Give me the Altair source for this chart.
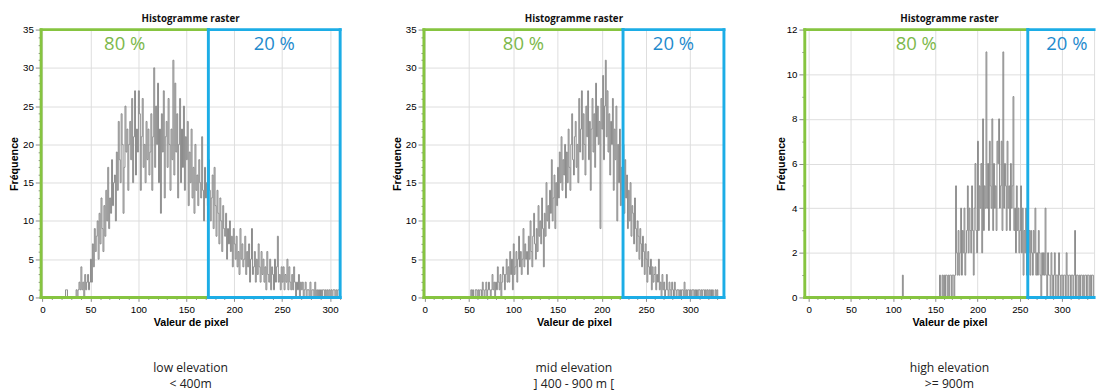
import altair as alt
import pandas as pd

# ---- histogram counts, one bin per pixel value (0, 1, 2, ...) ----
LOW = [0] * 24 + [
    1, 1, 0, 0, 0, 0,
    0, 0, 0, 0, 0, 1, 0, 1, 2, 1,
    4, 1, 2, 0, 3, 1, 2, 3, 1, 2,
    5, 2, 7, 4, 9, 6, 8, 10, 5, 11,
    7, 13, 9, 6, 12, 8, 14, 10, 17, 9,
    13, 11, 18, 12, 15, 16, 10, 19, 14, 23,
    18, 15, 24, 20, 11, 17, 25, 19, 22, 14,
    20, 23, 18, 26, 15, 21, 27, 16, 22, 19,
    27, 24, 14, 21, 26, 17, 20, 15, 23, 18,
    22, 16, 19, 24, 14, 21, 30, 17, 25, 20,
    28, 15, 22, 11, 24, 19, 27, 13, 21, 23,
    17, 26, 20, 14, 22, 18, 31, 16, 28, 19,
    24, 13, 20, 26, 15, 22, 17, 25, 14, 21,
    18, 23, 12, 19, 15, 22, 13, 17, 11, 20,
    14, 16, 12, 18, 15, 13, 21, 14, 10, 17,
    13, 15, 12, 18, 14, 10, 13, 16, 9, 17,
    12, 8, 14, 11, 7, 13, 10, 6, 12, 9,
    8, 11, 5, 9, 7, 10, 6, 8, 4, 9,
    7, 5, 8, 4, 6, 3, 9, 5, 7, 4,
    5, 8, 3, 6, 4, 7, 2, 5, 9, 3,
    4, 6, 2, 5, 3, 7, 4, 2, 6, 3,
    5, 2, 4, 1, 6, 3, 2, 5, 1, 4,
    3, 1, 5, 2, 4, 8, 2, 3, 1, 4,
    2, 4, 1, 3, 2, 5, 1, 4, 2, 1,
    3, 1, 4, 2, 0, 2, 1, 3, 0, 2,
    1, 2, 0, 1, 2, 0, 1, 1, 0, 2,
    0, 1, 1, 0, 2, 0, 1, 0, 1, 0,
    1, 0, 1, 1, 0, 1, 0, 1, 0, 1,
    0, 1, 0, 1, 1, 0, 1, 0, 1, 1,
    0,
]

MID = [0] * 50 + [
    0, 0, 1, 0, 1, 0, 0, 1, 1, 0,
    1, 0, 1, 1, 0, 2, 1, 0, 1, 2,
    0, 1, 2, 1, 0, 1, 3, 1, 2, 0,
    2, 1, 4, 2, 1, 3, 0, 2, 4, 3,
    1, 3, 5, 2, 4, 2, 6, 3, 5, 1,
    7, 3, 4, 6, 2, 5, 8, 4, 6, 3,
    5, 9, 4, 7, 5, 6, 3, 8, 5, 10,
    6, 4, 8, 11, 7, 5, 9, 6, 12, 8,
    10, 7, 13, 9, 4, 11, 8, 15, 10, 12,
    9, 14, 11, 18, 10, 13, 16, 9, 15, 12,
    17, 13, 19, 15, 21, 14, 18, 16, 20, 13,
    19, 15, 22, 17, 14, 20, 24, 18, 16, 21,
    23, 17, 20, 15, 26, 19, 22, 27, 18, 24,
    20, 16, 25, 21, 27, 18, 23, 14, 22, 26,
    19, 24, 17, 28, 21, 25, 20, 23, 9, 26,
    22, 29, 18, 25, 31, 21, 27, 19, 24, 16,
    23, 20, 26, 14, 22, 18, 25, 10, 20, 15,
    22, 12, 17, 14, 20, 11, 18, 13, 16, 9,
    14, 10, 15, 8, 12, 11, 7, 13, 9, 6,
    10, 8, 5, 9, 7, 4, 8, 6, 3, 7,
    5, 2, 6, 4, 3, 5, 1, 4, 2, 3,
    4, 1, 3, 2, 5, 1, 2, 0, 3, 1,
    2, 0, 1, 3, 1, 0, 2, 1, 0, 2,
    1, 0, 2, 1, 0, 1, 1, 0, 1, 0,
    1, 1, 0, 2, 0, 1, 0, 1, 1, 0,
    1, 0, 1, 1, 0, 1, 0, 1, 0, 1,
    1, 0, 1, 0, 1, 1, 0, 1, 0, 1,
    0, 1, 0, 1, 0, 1, 0, 0, 1, 0,
    1, 0, 0, 0, 0, 0, 0, 0, 0,
]

HIGH = [0] * 110 + [0, 1, 0, 0, 0, 0, 0, 0, 0, 0] + [0] * 30 + [
    0, 0, 0, 0, 0, 1, 0, 0, 1, 0,
    1, 0, 1, 1, 0, 1, 0, 1, 1, 0,
    1, 1, 0, 1, 5, 2, 1, 3, 1, 2,
    4, 1, 3, 2, 4, 1, 2, 3, 5, 2,
    4, 3, 2, 5, 3, 1, 4, 6, 3, 2,
    7, 3, 5, 4, 6, 2, 8, 3, 5, 4,
    11, 4, 6, 3, 7, 5, 4, 8, 3, 6,
    4, 5, 3, 7, 6, 8, 4, 5, 7, 3,
    11, 4, 6, 5, 3, 7, 4, 5, 3, 6,
    4, 5, 9, 3, 4, 2, 5, 3, 4, 2,
    3, 5, 2, 4, 1, 3, 2, 4, 1, 3,
    2, 3, 1, 3, 2, 1, 3, 2, 4, 1,
    2, 1, 3, 2, 1, 0, 2, 1, 2, 1,
    4, 1, 0, 2, 1, 1, 0, 2, 1, 0,
    1, 2, 0, 1, 1, 0, 2, 1, 0, 1,
    1, 0, 1, 1, 0, 2, 1, 0, 1, 1,
    0, 1, 1, 0, 1, 3, 0, 1, 1, 0,
    1, 0, 1, 1, 0, 1, 0, 1, 1, 0,
    1, 1, 0, 1, 0, 1, 1, 0, 1,
]

COUNTS = [LOW, MID, HIGH]
CAPTIONS = [["low elevation", "< 400m"],
            ["mid elevation", "] 400 - 900 m ["],
            ["high elevation", ">= 900m"]]
SHARES = ["80 %", "20 %"]
XMIN = [-1.5, -1.0, -4.6]
XMAX = [310.5, 338.0, 338.0]
BOX_END = [310.5, 338.0, 352.0]
SPLIT = [173.0, 224.0, 259.5]
YMAX = [35, 35, 12]
YMAJOR = [5, 5, 2]
YMINOR = [1, 1, 0.5]
WIDTHS = [307, 308, 297]
YTITLE_PAD = [3, 3, 0]
HEIGHT = 275

GREEN = "#86c440"
BLUE = "#1cade6"
GREEN_TXT = "#7db84b"
BLUE_TXT = "#1f8bcd"
FONT = "Open Sans"


def panel(i):
    counts = COUNTS[i]
    hist = pd.DataFrame({"x": list(range(len(counts))), "n": counts})
    xs = alt.Scale(domain=[XMIN[i], XMAX[i]], nice=False, zero=False)
    ys = alt.Scale(domain=[0, YMAX[i]], nice=False, zero=True)

    xvals = list(range(0, int(XMAX[i]) + 1, 10))
    nsteps = int(round(YMAX[i] / YMINOR[i]))
    yvals = [k * YMINOR[i] for k in range(nsteps + 1)]
    xtest = "datum.value % 50 === 0"
    ytest = f"datum.value % {YMAJOR[i]} === 0"

    xaxis = alt.Axis(
        values=xvals, title="Valeur de pixel", format="d",
        labelExpr=f"{xtest} ? datum.label : ''",
        tickSize={"condition": {"test": xtest, "value": 4}, "value": 2},
        gridOpacity={"condition": {"test": xtest, "value": 1}, "value": 0},
        labelOverlap=False, labelFlush=False, labelPadding=3,
        titlePadding=3, grid=True,
    )
    yaxis = alt.Axis(
        values=yvals, title="Fréquence", format="d",
        labelExpr=f"{ytest} ? datum.label : ''",
        tickSize={"condition": {"test": ytest, "value": 6}, "value": 3},
        gridOpacity={"condition": {"test": ytest, "value": 1}, "value": 0},
        labelOverlap=False, labelFlush=False, labelPadding=2,
        titlePadding=YTITLE_PAD[i], grid=True,
    )

    line = alt.Chart(hist).mark_line(
        interpolate="step-after", color="#8a8a8a", strokeWidth=1, clip=True
    ).encode(
        x=alt.X("x:Q", scale=xs, axis=xaxis),
        y=alt.Y("n:Q", scale=ys, axis=yaxis),
    )

    bend = min(BOX_END[i], XMAX[i])
    segs = [
        # green box
        (XMIN[i], SPLIT[i], YMAX[i], YMAX[i], GREEN),
        (XMIN[i], SPLIT[i], 0, 0, GREEN),
        (XMIN[i], XMIN[i], 0, YMAX[i], GREEN),
        # blue box
        (SPLIT[i], bend, YMAX[i], YMAX[i], BLUE),
        (SPLIT[i], bend, 0, 0, BLUE),
        (SPLIT[i], SPLIT[i], 0, YMAX[i], BLUE),
    ]
    if BOX_END[i] <= XMAX[i]:
        segs.append((BOX_END[i], BOX_END[i], 0, YMAX[i], BLUE))
    box = pd.DataFrame(segs, columns=["x", "x2", "y", "y2", "c"])
    boxes = alt.Chart(box).mark_rule(strokeWidth=3, strokeCap="square").encode(
        x=alt.X("x:Q", scale=xs, axis=xaxis), x2="x2:Q",
        y=alt.Y("y:Q", scale=ys, axis=yaxis), y2="y2:Q",
        color=alt.Color("c:N", scale=None),
    )

    lab = pd.DataFrame({
        "x": [(XMIN[i] + SPLIT[i]) / 2, (SPLIT[i] + BOX_END[i]) / 2],
        "y": [YMAX[i], YMAX[i]],
        "t": SHARES,
        "c": [GREEN_TXT, BLUE_TXT],
    })
    labels = alt.Chart(lab).mark_text(
        font=FONT, fontSize=19, baseline="middle", dy=15
    ).encode(
        x=alt.X("x:Q", scale=xs, axis=xaxis),
        y=alt.Y("y:Q", scale=ys, axis=yaxis),
        text="t:N", color=alt.Color("c:N", scale=None),
    )

    cap = pd.DataFrame({"t": ["\n".join(CAPTIONS[i])]})
    caption = alt.Chart(cap).mark_text(
        font=FONT, fontSize=12.5, color="#222", lineBreak="\n",
        lineHeight=15.5, baseline="top", align="center",
    ).encode(
        x=alt.value(WIDTHS[i] / 2), y=alt.value(342), text="t:N"
    )

    return alt.layer(line, boxes, labels, caption).properties(
        width=WIDTHS[i], height=HEIGHT,
        title=alt.TitleParams(
            "Histogramme raster", font=FONT, fontSize=10,
            fontWeight="bold", color="#111", offset=1, anchor="middle",
        ),
    )


chart = alt.hconcat(panel(0), panel(1), panel(2), spacing=49).properties(
    padding={"left": 0, "top": 0, "right": 0, "bottom": 0}
).configure_view(strokeWidth=0).configure_axis(
    domain=False, labelOverlap=False,
    gridColor="#3c3c3c", gridWidth=1,
    tickColor="#555", tickWidth=1,
    labelFont=FONT, labelFontSize=6, labelColor="#444",
    titleFont=FONT, titleFontSize=8, titleFontWeight="bold", titleColor="#111",
).configure(background="white")

chart.save("out.html", embed_options={"renderer": "svg", "actions": False})
